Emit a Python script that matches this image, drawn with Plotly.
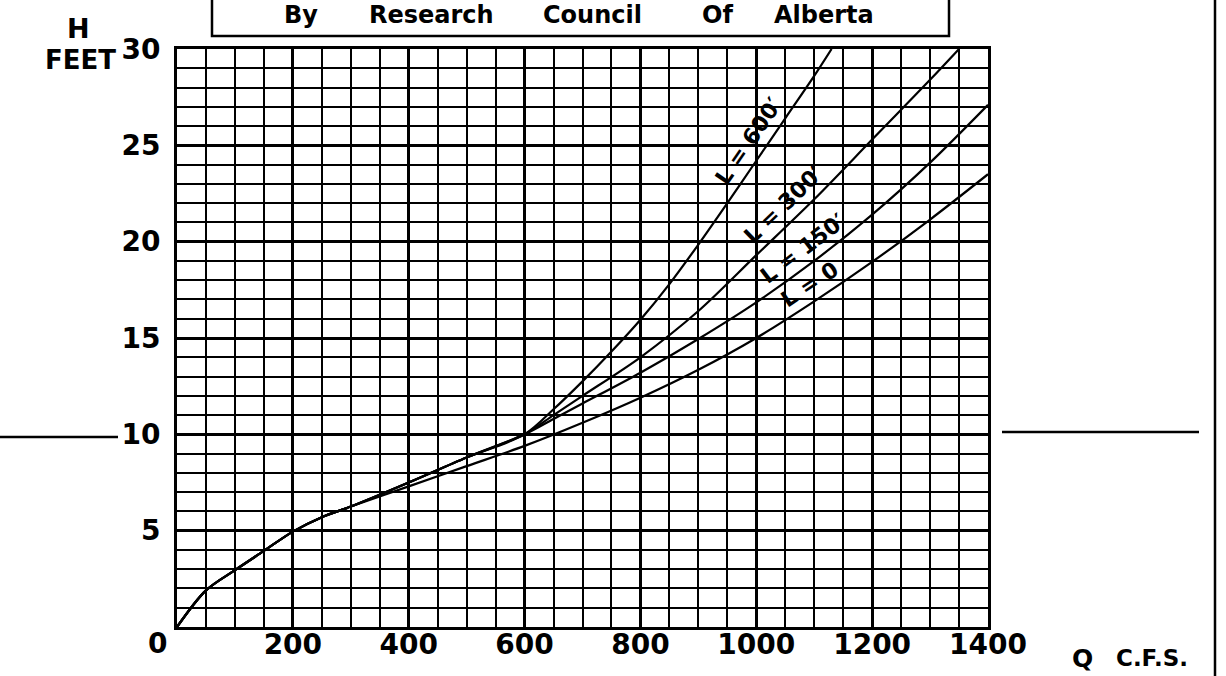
import numpy as np
import plotly.graph_objects as go

# ---------------- data ----------------
Q_low = [0, 50, 100, 150, 200, 250, 300, 400, 500, 600]
H_low_shared = [0, 1.9, 2.95, 3.95, 4.95, 5.7, 6.25, 7.5, 8.8, 10.0]
H_low_L0 = [0, 1.9, 2.95, 3.95, 4.95, 5.7, 6.25, 7.3, 8.35, 9.4]

Q_L0_hi = [700, 800, 900, 1000, 1100, 1200, 1300, 1400]
H_L0_hi = [10.6, 11.9, 13.35, 15.0, 16.9, 18.95, 21.15, 23.5]

Q_L150_hi = [650, 700, 800, 900, 1000, 1100, 1200, 1300, 1400]
H_L150_hi = [10.8, 11.6, 13.2, 14.95, 16.85, 19.0, 21.4, 24.1, 27.1]

Q_L300_hi = [650, 700, 800, 900, 1000, 1100, 1200, 1300, 1350]
H_L300_hi = [11.0, 12.0, 14.0, 16.4, 19.3, 22.2, 25.3, 28.4, 30.0]

Q_L600_hi = [650, 700, 750, 800, 850, 900, 950, 1000, 1050, 1100, 1130]
H_L600_hi = [11.3, 12.75, 14.3, 15.95, 17.8, 19.85, 22.0, 24.2, 26.4, 28.6, 30.0]

curve_names = ["L = 0", "L = 150′", "L = 300′", "L = 600′"]
label_Q = [1108, 1098, 1068, 1012]

x_ticks = [200, 400, 600, 800, 1000, 1200, 1400]
y_ticks = [5, 10, 15, 20, 25, 30]

curves = [
    (Q_low + Q_L0_hi, H_low_L0 + H_L0_hi),
    (Q_low + Q_L150_hi, H_low_shared + H_L150_hi),
    (Q_low + Q_L300_hi, H_low_shared + H_L300_hi),
    (Q_low + Q_L600_hi, H_low_shared + H_L600_hi),
]

# ---------------- layout geometry ----------------
W, Hh = 1226, 676
PLOT_L, PLOT_T, PW, PH = 177, 49, 811, 578   # plot area in page pixels
L_M, T_M = PLOT_L, PLOT_T
R_M = W - L_M - PW
B_M = Hh - T_M - PH
XMAX, YMAX = 1400, 30


def px(x):
    return (x - PLOT_L) / PW


def py(y):
    return (PLOT_T + PH - y) / PH


FONT = "DejaVu Sans"

fig = go.Figure()
for (q, h), name in zip(curves, curve_names):
    fig.add_trace(go.Scatter(
        x=q, y=h, mode="lines", name=name,
        line=dict(color="black", width=2.2, shape="spline", smoothing=0.9),
        showlegend=False, hoverinfo="skip",
    ))

annotations = []
sx = PW / XMAX
sy = PH / YMAX
for (q, h), name, ql in zip(curves, curve_names, label_Q):
    hl = float(np.interp(ql, q, h))
    dq = 40
    dh = float(np.interp(ql + dq, q, h)) - float(np.interp(ql - dq, q, h))
    ang = np.degrees(np.arctan2(dh * sy, 2 * dq * sx))
    off = 17
    annotations.append(dict(
        x=ql, y=hl, xref="x", yref="y", text=name, showarrow=False,
        xanchor="center", yanchor="middle",
        textangle=-ang,
        xshift=-off * np.sin(np.radians(ang)), yshift=off * np.cos(np.radians(ang)),
        font=dict(family=FONT, size=22, color="black", weight="bold"),
    ))


def paper_text(text, x, y, size):
    return dict(x=px(x), y=py(y), xref="paper", yref="paper", text=text,
                showarrow=False, xanchor="center", yanchor="middle",
                font=dict(family=FONT, size=size, color="black", weight="bold"))


annotations += [
    paper_text("0", 157, 643, 28),
    paper_text("H", 78, 28, 27),
    paper_text("FEET", 80, 60, 26),
    paper_text("Q", 1082, 658, 25),
    paper_text("C.F.S.", 1152, 658, 23),
]
title_words = ["By", "Research", "Council", "Of", "Alberta"]
title_x = [301, 431, 592, 717, 824]
for w, xc in zip(title_words, title_x):
    annotations.append(paper_text(w, xc, 15, 24))

shapes = [
    dict(type="rect", xref="paper", yref="paper", x0=px(212), x1=px(949),
         y0=py(36), y1=py(-20), line=dict(color="black", width=2.5)),
    dict(type="line", xref="paper", yref="paper", x0=px(-10), x1=px(118),
         y0=py(437), y1=py(437), line=dict(color="black", width=2.5)),
    dict(type="line", xref="paper", yref="paper", x0=px(1002), x1=px(1199),
         y0=py(432), y1=py(432), line=dict(color="black", width=2.5)),
    dict(type="line", xref="paper", yref="paper", x0=px(1215), x1=px(1215),
         y0=py(-20), y1=py(700), line=dict(color="black", width=2.5)),
]

axis_common = dict(
    showgrid=True, gridcolor="black", gridwidth=2.8,
    showline=True, mirror=True, linecolor="black", linewidth=3,
    ticks="", zeroline=False, fixedrange=True,
    tickfont=dict(family=FONT, size=28, color="black", weight="bold"),
)

fig.update_layout(
    width=W, height=Hh,
    margin=dict(l=L_M, r=R_M, t=T_M, b=B_M, pad=0, autoexpand=False),
    paper_bgcolor="white", plot_bgcolor="white",
    font=dict(family=FONT, color="black"),
    annotations=annotations, shapes=shapes,
    xaxis=dict(
        range=[0, XMAX], tickmode="array", tickvals=x_ticks,
        ticktext=[str(v) for v in x_ticks], ticklabelstandoff=-10,
        minor=dict(dtick=50, tick0=0, showgrid=True, gridcolor="black", gridwidth=1.9),
        **axis_common,
    ),
    yaxis=dict(
        range=[0, YMAX], tickmode="array", tickvals=y_ticks,
        ticktext=[str(v) for v in y_ticks], ticklabelstandoff=8,
        minor=dict(dtick=1, tick0=0, showgrid=True, gridcolor="black", gridwidth=1.9),
        **axis_common,
    ),
)

fig.write_html(
    "out.html",
    config={"displayModeBar": False},
    post_script="document.body.style.margin='0';document.body.style.overflow='hidden';",
)
